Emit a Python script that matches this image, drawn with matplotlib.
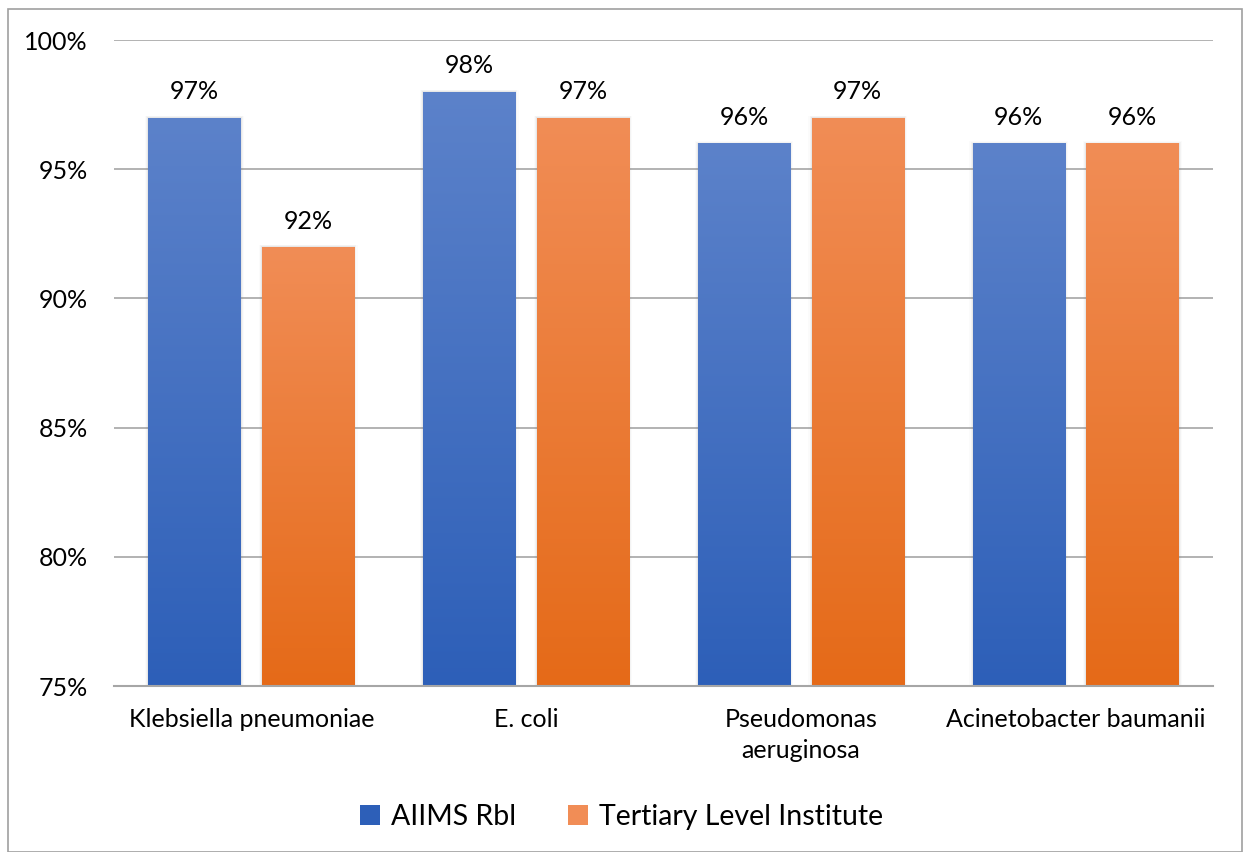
import matplotlib
matplotlib.use("Agg")
import matplotlib.pyplot as plt
import numpy as np
from matplotlib.colors import LinearSegmentedColormap
from matplotlib.patches import Rectangle, Patch

categories = ["Klebsiella pneumoniae", "E. coli", "Pseudomonas\naeruginosa", "Acinetobacter baumanii"]
series_names = ["AIIMS Rbl", "Tertiary Level Institute"]
aiims = [97, 98, 96, 96]
tertiary = [92, 97, 97, 96]
yticks = [75, 80, 85, 90, 95, 100]

plt.rcParams['font.family'] = ['Lato', 'DejaVu Sans']

fig = plt.figure(figsize=(12.43, 8.52), dpi=100)
ax = fig.add_axes([114/1243, 1-686/852, (1213-114)/1243, (686-40)/852])

grads = [("#5C82CA", "#2D5FB8"), ("#F18D56", "#E56A18")]
width = 0.335
offsets = [-0.207, 0.207]
x = np.arange(len(categories))
ymin, ymax = 75, 100

for si, vals in enumerate([aiims, tertiary]):
    cmap = LinearSegmentedColormap.from_list("g%d" % si, [grads[si][1], grads[si][0]])
    bars = ax.bar(x + offsets[si], [v - ymin for v in vals], width, bottom=ymin,
                  color=grads[si][0], label=series_names[si], zorder=3)
    for b, v in zip(bars, vals):
        x0, w = b.get_x(), b.get_width()
        # soft shadow
        for k, a in enumerate([0.10, 0.06, 0.03]):
            d = 0.004 * (k + 1)
            sh = Rectangle((x0 - d, ymin), w + 2 * d, v - ymin + d * 6,
                           facecolor="#808080", alpha=a, edgecolor="none", zorder=2.5)
            ax.add_patch(sh)
        b.set_facecolor("none")
        grad = np.linspace(0, 1, 256).reshape(-1, 1)
        im = ax.imshow(grad, cmap=cmap, aspect="auto", origin="lower",
                       extent=[x0, x0 + w, ymin, v], zorder=3, vmin=0, vmax=1)
        im.set_clip_path(b)
        ax.text(b.get_x() + w / 2, v + 0.55, "%d%%" % v, ha="center", va="bottom",
                fontsize=18, color="#000000", zorder=4)

ax.set_xlim(-0.5, len(categories) - 0.5)
ax.set_ylim(ymin, ymax)
ax.set_yticks(yticks)
ax.set_yticklabels(["%d%%" % t for t in yticks], fontsize=18)
ax.set_xticks(x)
ax.set_xticklabels(categories, fontsize=18, linespacing=1.4)
ax.tick_params(axis="both", length=0)
ax.tick_params(axis="x", pad=16)
ax.tick_params(axis="y", pad=19)
for s in ["top", "right", "left"]:
    ax.spines[s].set_visible(False)
ax.spines["bottom"].set_color("#A6A6A6")
ax.spines["bottom"].set_linewidth(1.5)
ax.spines["bottom"].set_zorder(5)
ax.yaxis.grid(True, color="#A6A6A6", linewidth=1.2, zorder=1)
ax.set_axisbelow(True)

handles = [Patch(facecolor=grads[0][1]), Patch(facecolor=grads[1][0])]
leg = fig.legend(handles, series_names, loc="center", bbox_to_anchor=(0.5, 1 - 817/852),
                 ncol=2, frameon=False, fontsize=20.5, handlelength=0.7, handleheight=0.7,
                 handletextpad=0.4, columnspacing=1.8)

border = Rectangle((8/1243, 0), (1242-8)/1243, 1 - 9/852, transform=fig.transFigure,
                   fill=False, edgecolor="#A0A0A0", linewidth=1.2)
fig.patches.append(border)

fig.savefig("out.png", dpi=100)
